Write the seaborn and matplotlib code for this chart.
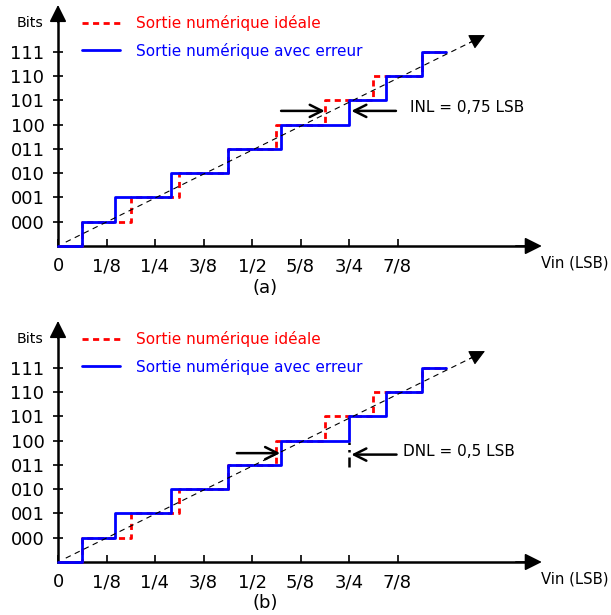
import numpy as np
import pandas as pd
import matplotlib
matplotlib.use("Agg")
import matplotlib.pyplot as plt
import seaborn as sns

# ---------------- data ----------------
codes = ["000", "001", "010", "011", "100", "101", "110", "111"]
code_levels = [1, 2, 3, 4, 5, 6, 7, 8]
x_tick_labels = ["0", "1/8", "1/4", "3/8", "1/2", "5/8", "3/4", "7/8"]
x_tick_pos = [0, 0.125, 0.25, 0.375, 0.5, 0.625, 0.75, 0.875]

# transition points (Vin, in LSB) of the ideal and real converter
ideal_transitions = [0.0625, 0.1875, 0.3125, 0.4375, 0.5625, 0.6875, 0.8125, 0.9375]
error_transitions = [0.0625, 0.146, 0.2925, 0.4375, 0.575, 0.75, 0.845, 0.9375]
vin_start = 0.0
vin_end = 1.0

ideal_line_x = [0.02, 1.1005]
ideal_line_y = [0.16, 8.68]

legend_labels = ["Sortie numérique idéale", "Sortie numérique avec erreur"]
red = "#ff0000"
blue = "#0000ff"

sns.set_style("white")
plt.rcParams["font.family"] = ["DejaVu Sans"]
plt.rcParams["text.color"] = "black"
plt.rcParams["axes.labelcolor"] = "black"
plt.rcParams["xtick.color"] = "black"
plt.rcParams["ytick.color"] = "black"


def steps(transitions):
    xs = [vin_start] + list(transitions) + [vin_end]
    ys = [0] + code_levels + [code_levels[-1]]
    return pd.DataFrame({"x": xs, "y": ys})


fig = plt.figure(figsize=(6.11, 6.15), dpi=100)

PX_X = 388.0   # pixels per LSB
PX_Y = 24.3    # pixels per code


def make_axes(rect_px_top, rect_px_bottom, origin_py):
    H = 615.0
    ax = fig.add_axes([0, (H - rect_px_bottom) / H, 1, (rect_px_bottom - rect_px_top) / H])
    ax.set_xlim(-58 / PX_X, (611 - 58) / PX_X)
    ax.set_ylim((origin_py - rect_px_bottom) / PX_Y, (origin_py - rect_px_top) / PX_Y)
    return ax


def draw_panel(ax, label, label_y):
    df_i = steps(ideal_transitions)
    df_e = steps(error_transitions)
    sns.lineplot(data=df_i, x="x", y="y", ax=ax, color=red, lw=2.0,
                 drawstyle="steps-post", linestyle=(0, (2.2, 1.6)), sort=False,
                 label=legend_labels[0], zorder=3)
    sns.lineplot(data=df_e, x="x", y="y", ax=ax, color=blue, lw=2.0,
                 drawstyle="steps-post", sort=False, label=legend_labels[1], zorder=4)
    # ideal transfer line (dashed) with a filled arrowhead
    sns.lineplot(x=[ideal_line_x[0], ideal_line_x[1] - 0.03],
                 y=[ideal_line_y[0], ideal_line_y[1] - 0.24], ax=ax, color="black",
                 lw=0.8, linestyle=(0, (5, 4)), zorder=5)
    ax.annotate("", xy=(ideal_line_x[1], ideal_line_y[1]),
                xytext=(ideal_line_x[1] - 0.04, ideal_line_y[1] - 0.32),
                arrowprops=dict(arrowstyle="-|>", color="black", lw=0.8,
                                mutation_scale=24, shrinkA=0, shrinkB=0), zorder=5)

    # axes
    for s in ["top", "right"]:
        ax.spines[s].set_visible(False)
    ax.spines["left"].set_position(("data", 0))
    ax.spines["bottom"].set_position(("data", 0))
    ax.spines["left"].set_bounds(0, 9.4)
    ax.spines["bottom"].set_bounds(0, 1.2)
    for s in ["left", "bottom"]:
        ax.spines[s].set_linewidth(1.8)
        ax.spines[s].set_color("black")
    ax.annotate("", xy=(1.247, 0), xytext=(1.18, 0),
                arrowprops=dict(arrowstyle="-|>", color="black", lw=1.2,
                                mutation_scale=26, shrinkA=0, shrinkB=0))
    ax.annotate("", xy=(0, 9.92), xytext=(0, 9.2),
                arrowprops=dict(arrowstyle="-|>", color="black", lw=1.2,
                                mutation_scale=26, shrinkA=0, shrinkB=0))

    ax.set_xticks(x_tick_pos)
    ax.set_xticklabels(x_tick_labels)
    ax.set_yticks(code_levels)
    ax.set_yticklabels(codes)
    ax.tick_params(axis="x", direction="in", length=5, width=1.2, pad=8,
                   labelsize=13, colors="black", bottom=True)
    ax.tick_params(axis="y", direction="inout", length=7.5, width=1.2, pad=6,
                   labelsize=13, colors="black", left=True)
    ax.set_xlabel("")
    ax.set_ylabel("")

    ax.text(-0.072, 9.18, "Bits", fontsize=10.3, ha="center", va="center", color="black")
    ax.text(1.244, -0.72, "Vin (LSB)", fontsize=10.7, ha="left", va="center", color="black")
    ax.text(0.5335, label_y, label, fontsize=13, ha="center", va="center", color="black")

    ax.legend(loc="upper left", bbox_to_anchor=(0.061, 9.5),
              bbox_transform=ax.transData, frameon=False, fontsize=11,
              handlelength=2.5, handletextpad=1.05, labelspacing=0.75,
              borderpad=0, borderaxespad=0, labelcolor="linecolor")
    return ax


axa = make_axes(0, 305, 246)
draw_panel(axa, "(a)", -1.73)
arrow_kw = dict(arrowstyle="->", color="black", lw=1.8, mutation_scale=22,
                shrinkA=0, shrinkB=0)
axa.annotate("", xy=(0.6875, 5.56), xytext=(0.575, 5.56), arrowprops=arrow_kw)
axa.annotate("", xy=(0.756, 5.56), xytext=(0.871, 5.56), arrowprops=arrow_kw)
axa.text(0.907, 5.68, "INL = 0,75 LSB", fontsize=11, ha="left", va="center", color="black")

axb = make_axes(308, 615, 562)
draw_panel(axb, "(b)", -1.69)
axb.annotate("", xy=(0.5725, 4.48), xytext=(0.461, 4.48), arrowprops=arrow_kw)
axb.annotate("", xy=(0.756, 4.42), xytext=(0.8725, 4.42), arrowprops=arrow_kw)
axb.plot([0.75, 0.75], [3.92, 4.95], color="black", lw=1.8, linestyle=(0, (4, 2, 1, 2)))
axb.text(0.888, 4.54, "DNL = 0,5 LSB", fontsize=11, ha="left", va="center", color="black")

fig.savefig("out.png", dpi=100)
